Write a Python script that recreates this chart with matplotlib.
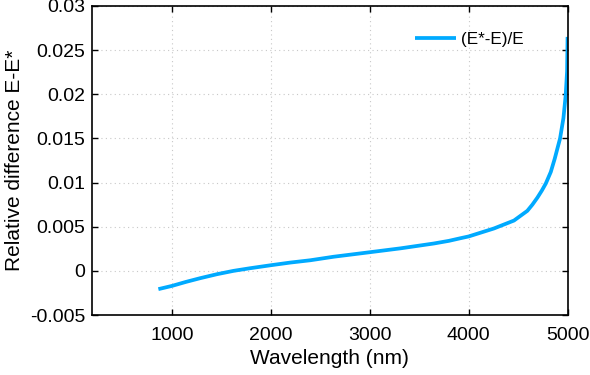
import matplotlib
matplotlib.use("Agg")
import matplotlib.pyplot as plt
from matplotlib.ticker import FuncFormatter

plt.rcParams['font.family'] = ['Liberation Sans', 'DejaVu Sans']

wavelength = [861, 1000, 1140, 1284, 1453, 1621, 1790, 2000, 2196, 2398, 2634, 3006, 3310,
              3648, 3800, 3918, 4000, 4255, 4458, 4593, 4644, 4695, 4740, 4780, 4830, 4870,
              4924, 4958, 4981, 4995, 5000]
rel_diff = [-0.00207, -0.0017, -0.00125, -0.00083, -0.00038, 0.0, 0.0003, 0.00064, 0.00094,
            0.0012, 0.0016, 0.00212, 0.00255, 0.0031, 0.0034, 0.0037, 0.0039, 0.0048, 0.0057,
            0.0068, 0.0075, 0.0083, 0.0091, 0.0099, 0.0112, 0.0127, 0.0150, 0.0173,
            0.0199, 0.0226, 0.0265]
xticks = [1000, 2000, 3000, 4000, 5000]
yticks = [-0.005, 0, 0.005, 0.01, 0.015, 0.02, 0.025, 0.03]

fig = plt.figure(figsize=(5.9, 3.75), dpi=100)
ax = fig.add_axes([0.156, 0.16, 0.806, 0.824])
ax.plot(wavelength, rel_diff, color='#00AAFF', lw=2.7, label='(E*-E)/E',
        solid_joinstyle='round', solid_capstyle='butt')
ax.set_xlim(190, 5000)
ax.set_ylim(-0.005, 0.03)
ax.set_xticks(xticks)
ax.set_yticks(yticks)
ax.yaxis.set_major_formatter(FuncFormatter(lambda v, p: '%g' % round(v, 4)))
ax.grid(True, linestyle=(0, (1, 3)), color='#c8c8c8', lw=0.8)
ax.tick_params(direction='in', top=True, right=True, length=4, width=1, labelsize=14)
ax.tick_params(axis='x', pad=9)
ax.tick_params(axis='y', pad=5)
for s in ax.spines.values():
    s.set_linewidth(1.2)
ax.set_xlabel('Wavelength (nm)', fontsize=15, labelpad=3.5)
ax.set_ylabel('Relative difference E-E*', fontsize=15, labelpad=4)
ax.legend(loc='upper right', frameon=False, fontsize=12.3, handlelength=2.4,
          handletextpad=0.3, bbox_to_anchor=(0.94, 0.965))
fig.savefig('out.png', dpi=100)
